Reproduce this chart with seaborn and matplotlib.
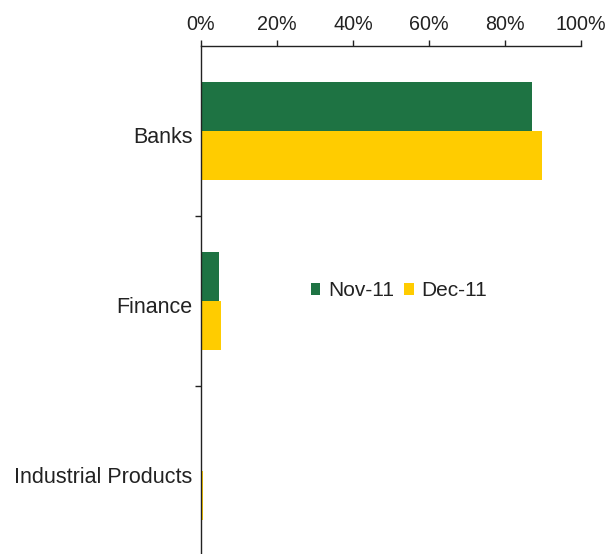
import matplotlib
matplotlib.use("Agg")
import matplotlib.pyplot as plt
import matplotlib.transforms as mtransforms
import seaborn as sns
import pandas as pd
from matplotlib.ticker import FixedLocator, PercentFormatter

categories = ["Banks", "Finance", "Industrial Products"]
series_names = ["Nov-11", "Dec-11"]
nov_values = [87.1, 4.7, 0.0]
dec_values = [89.7, 5.2, 0.6]
x_ticks = [0, 20, 40, 60, 80, 100]

df = pd.DataFrame({
    "Sector": categories * 2,
    "Period": [series_names[0]] * 3 + [series_names[1]] * 3,
    "Value": nov_values + dec_values,
})

sns.set_style("white")
plt.rcParams["font.family"] = ["Liberation Sans", "DejaVu Sans"]

fig = plt.figure(figsize=(6.12, 5.54), dpi=100)
ax = fig.add_axes([201 / 612, 1 - 556 / 554, 380 / 612, 510 / 554])

sns.barplot(data=df, y="Sector", x="Value", hue="Period", orient="h",
            palette=["#1E7343", "#FFCC00"], width=0.577, saturation=1,
            ax=ax, legend=True)

ax.set_xlim(0, 100)
ax.set_ylim(2.5, -0.5)
ax.xaxis.set_major_locator(FixedLocator(x_ticks))
ax.xaxis.set_major_formatter(PercentFormatter(decimals=0))
ax.xaxis.tick_top()
ax.tick_params(axis="x", which="major", direction="out", length=4, width=1,
               color="#222222", labelsize=14.2, pad=5, labelcolor="#222222")
ax.set_xlabel("")
ax.set_ylabel("")

ax.set_yticks([0, 1, 2])
ax.set_yticklabels(categories)
ax.tick_params(axis="y", which="major", length=0, labelsize=15.5, pad=6,
               labelcolor="#222222")
offset = mtransforms.ScaledTranslation(0, -4 / 100, fig.dpi_scale_trans)
for lbl in ax.get_yticklabels():
    lbl.set_transform(lbl.get_transform() + offset)
ax.yaxis.set_minor_locator(FixedLocator([0.5, 1.5]))
ax.tick_params(axis="y", which="minor", direction="out", length=4, width=1,
               color="#222222", left=True)

for side in ["right", "bottom"]:
    ax.spines[side].set_visible(False)
for side in ["top", "left"]:
    ax.spines[side].set_visible(True)
    ax.spines[side].set_color("#222222")
    ax.spines[side].set_linewidth(1.0)

for p in ax.patches:
    p.set_edgecolor("none")

leg = ax.legend(loc="center", bbox_to_anchor=((399 - 201) / 380, (556 - 291) / 510),
                ncol=2, frameon=False, fontsize=15, handlelength=0.45,
                handleheight=0.45, handletextpad=0.38, columnspacing=0.5,
                borderpad=0)
for t in leg.get_texts():
    t.set_color("#222222")

fig.savefig("out.png", dpi=100)
